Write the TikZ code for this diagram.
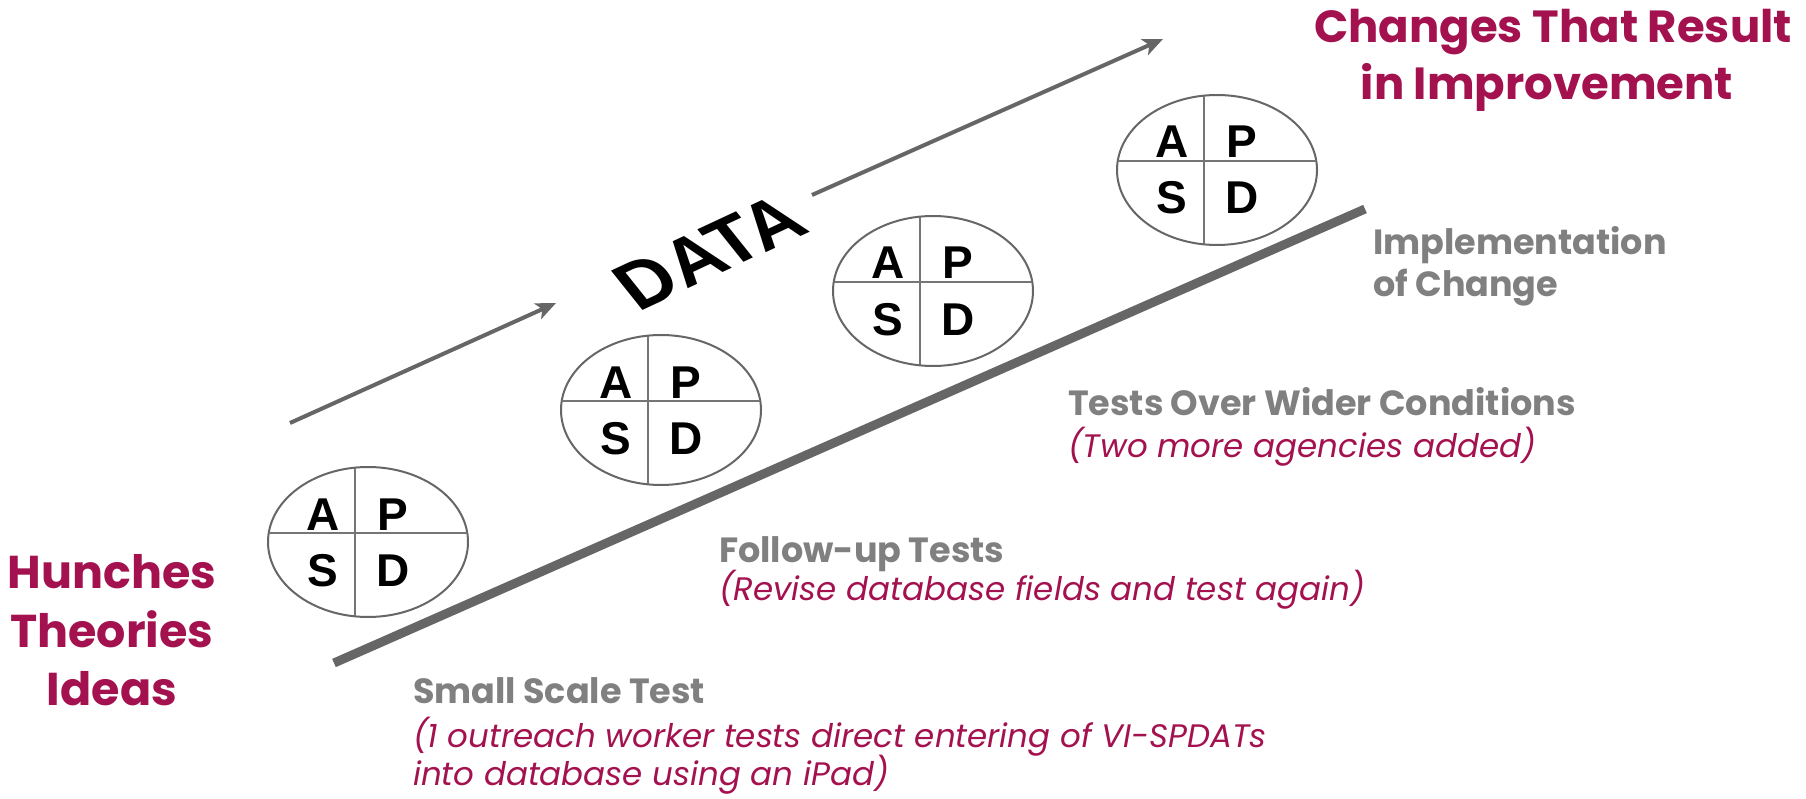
\documentclass[tikz,border=0pt]{standalone}
\usepackage{fontspec}
\setmainfont{Poppins}
\newfontfamily\arialf{Liberation Sans}
\usetikzlibrary{arrows.meta,shapes.geometric}
\definecolor{crim}{HTML}{A3114F}
\definecolor{gtext}{HTML}{808080}
\definecolor{gline}{HTML}{666666}
\tikzset{
  every node/.style={inner sep=0pt, outer sep=0pt},
  pdsa/.style={draw=gline, line width=2pt, ellipse, minimum width=200pt, minimum height=150pt},
  crossline/.style={draw=gline!90!white, line width=2pt},
  letter/.style={font=\arialf\bfseries\fontsize{46}{46}\selectfont, text=black, anchor=base},
  arr/.style={draw=gline, line width=4pt, -{Stealth[length=20pt, width=17pt, inset=5pt]}},
  stage/.style={font=\bfseries\fontsize{35}{40}\selectfont, text=gtext, anchor=base west},
  note/.style={font=\itshape\fontsize{32.5}{38}\selectfont, text=crim, anchor=base west},
  headline/.style={font=\bfseries\fontsize{45}{50}\selectfont, text=crim, anchor=base},
  bigword/.style={font=\bfseries\fontsize{46}{50}\selectfont, text=crim, anchor=base},
}
\newcommand\pdsacycle[3]{%
  \node[pdsa] (#1) at (#2,#3) {};
  \draw[crossline] ([shift={(-13,-74.4)}]#1.center) -- ([shift={(-13,74.4)}]#1.center);
  \draw[crossline] ([shift={(-99.3,-9)}]#1.center) -- ([shift={(99.3,-9)}]#1.center);
  \node[letter] (#1-a) at ([shift={(-45,-12)}]#1.center) {A};
  \node[letter] (#1-p) at ([shift={(25,-12)}]#1.center) {P};
  \node[letter] (#1-s) at ([shift={(-45,44)}]#1.center) {S};
  \node[letter] (#1-d) at ([shift={(25,44)}]#1.center) {D};
}
\begin{document}
\begin{tikzpicture}[x=1pt,y=-1pt]
\useasboundingbox[fill=white] (0,0) rectangle (1806,799);

% thick baseline
\coordinate (l0) at (334,663);
\coordinate (l1) at (1365,209);
\draw[gline, line width=9pt] (l0) -- (l1);

% data arrows
\coordinate (a1s) at (290,423);
\coordinate (a1e) at (556,303);
\coordinate (a2s) at (812,195);
\coordinate (a2e) at (1163,39);
\draw[arr] (a1s) -- (a1e);
\draw[arr] (a2s) -- (a2e);

% DATA word (rotated, then stretched horizontally)
\begin{scope}[shift={(709.5,252)}, xscale=1.309, rotate=31.4]
  \node[transform shape, xscale=0.88, font=\arialf\bfseries\fontsize{67}{67}\selectfont] (data) at (0,0) {DATA};
\end{scope}

% PDSA cycles
\pdsacycle{c1}{368}{542}
\pdsacycle{c2}{661}{410}
\pdsacycle{c3}{933}{291}
\pdsacycle{c4}{1217}{170}

% headings
\node[headline] (res1) at (1553,43) {Changes That Result};
\node[headline] (res2) at (1547,100) {in Improvement};
\node[bigword] (h1) at (112,588) {Hunches};
\node[bigword] (h2) at (112,647) {Theories};
\node[bigword] (h3) at (112,705) {Ideas};

% stages
\node[stage] (imp1) at (1373,255) {Implementation};
\node[stage] (imp2) at (1373,297) {of Change};
\node[stage] (wide) at (1068,415) {Tests Over Wider Conditions};
\node[note] (widen) at (1068,457) {(Two more agencies added)};
\node[stage] (fol) at (719,562) {Follow-up Tests};
\node[note] (foln) at (719,600) {(Revise database fields and test again)};
\node[stage] (small) at (413,703) {Small Scale Test};
\node[note] (smalln1) at (413,747) {(1 outreach worker tests direct entering of VI-SPDATs};
\node[note] (smalln2) at (413,785) {into database using an iPad)};
\end{tikzpicture}
\end{document}
